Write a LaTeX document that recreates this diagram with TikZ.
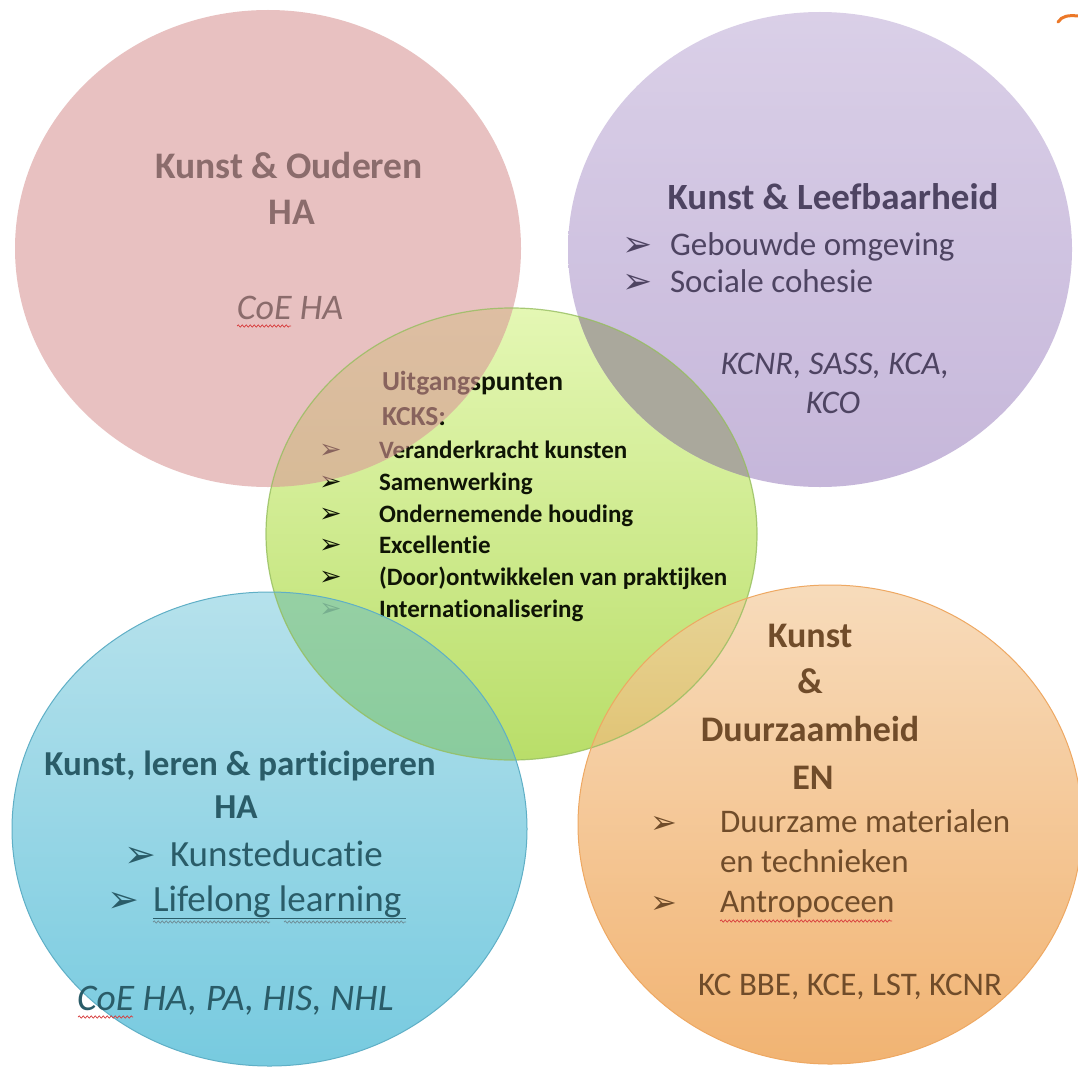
\documentclass[tikz,border=0pt]{standalone}
\usepackage{fontspec}
\setmainfont{Carlito}[Ligatures=NoCommon]
\newfontfamily\dingfont{DejaVu Sans}
\usetikzlibrary{decorations.pathmorphing}
\definecolor{greentop}{RGB}{228,247,180}
\definecolor{greenbot}{RGB}{185,222,105}
\definecolor{greenline}{RGB}{150,190,95}
\definecolor{pinkbase}{RGB}{218,153,152}
\definecolor{purptop}{RGB}{206,192,224}
\definecolor{purpbot}{RGB}{179,159,206}
\definecolor{greyover}{RGB}{170,168,156}
\definecolor{bluetop}{RGB}{143,210,226}
\definecolor{bluebot}{RGB}{47,175,207}
\definecolor{blueline}{RGB}{95,175,198}
\definecolor{bluegreen}{RGB}{140,202,140}
\definecolor{orangetop}{RGB}{245,205,159}
\definecolor{orangebot}{RGB}{236,148,55}
\definecolor{orangeline}{RGB}{238,168,98}
\definecolor{pinktext}{RGB}{139,108,108}
\definecolor{purptext}{RGB}{78,68,98}
\definecolor{bluetext}{RGB}{42,92,104}
\definecolor{orangetext}{RGB}{112,76,42}
\definecolor{greentext}{RGB}{15,20,5}
\definecolor{wavyred}{RGB}{215,60,60}
\definecolor{wavygrey}{RGB}{110,140,150}
\definecolor{hookorange}{RGB}{236,120,40}
\begin{document}
\begin{tikzpicture}[x=1pt,y=-1pt,
  lbl/.style={inner sep=0pt, outer sep=0pt},
  bul/.style={lbl, font=\dingfont\fontsize{#1}{#1}\selectfont},
  wavy/.style={decorate, decoration={snake, amplitude=1.1pt, segment length=4pt}, line width=0.7pt}]
\useasboundingbox (0,0) rectangle (1078,1070);
\fill[white] (0,0) rectangle (1078,1070);

% green centre circle and its text
\shade[top color=greentop, bottom color=greenbot] (511.5,534) ellipse (245.5 and 226);
\node[lbl, anchor=base west, text=greentext, font=\bfseries\fontsize{27.5}{27.5}\selectfont] (g1) at (382,390) {Uitgangspunten};
\node[lbl, anchor=base west, text=greentext, font=\bfseries\fontsize{27.5}{27.5}\selectfont] (g2) at (382,425) {KCKS:};
\foreach \y/\t [count=\i] in {458/Veranderkracht kunsten, 490/Samenwerking, 522/Ondernemende houding, 553/Excellentie, 585/(Door)ontwikkelen van praktijken, 617/Internationalisering}{
  \node[bul=27, anchor=base west, text=greentext] (gb\i) at (319,\y) {➢};
  \node[lbl, anchor=base west, text=greentext, font=\bfseries\fontsize{25}{25}\selectfont] (gi\i) at (379,\y) {\t};
}

% pink
\fill[pinkbase, fill opacity=0.6] (268,248.5) ellipse (253 and 238.5);
% purple
\shade[top color=purptop, bottom color=purpbot, fill opacity=0.75] (820,249.5) ellipse (252 and 237.5);
\begin{scope}
  \clip (511.5,534) ellipse (245.5 and 226);
  \fill[greyover] (820,249.5) ellipse (252 and 237.5);
\end{scope}
% blue
\shade[top color=bluetop, bottom color=bluebot, fill opacity=0.65] (269.5,829) ellipse (257.5 and 237);
\begin{scope}
  \clip (511.5,534) ellipse (245.5 and 226);
  \fill[bluegreen, fill opacity=0.55] (269.5,829) ellipse (257.5 and 237);
\end{scope}
% orange
\shade[top color=orangetop, bottom color=orangebot, fill opacity=0.7] (830,824.5) ellipse (252 and 239.5);

% outlines
\draw[greenline, line width=1.2pt, opacity=0.8] (511.5,534) ellipse (245.5 and 226);
\draw[blueline, line width=1pt] (269.5,829) ellipse (257.5 and 237);
\draw[orangeline, line width=1pt] (830,824.5) ellipse (252 and 239.5);

% small orange hook top right
\draw[hookorange, line width=3pt, line cap=round] (1058,22) .. controls (1062,16) and (1068,15) .. (1078,16);

% pink text
\node[lbl, anchor=base, text=pinktext, font=\bfseries\fontsize{37.5}{37.5}\selectfont] (p1) at (289,178) {Kunst \& Ouderen};
\node[lbl, anchor=base, text=pinktext, font=\bfseries\fontsize{37.5}{37.5}\selectfont] (p2) at (292,224) {HA};
\node[lbl, anchor=base, text=pinktext, font=\itshape\fontsize{36}{36}\selectfont] (p3) at (290,319) {CoE HA};
\draw[wavyred, wavy] (237,326) -- (291,326);

% purple text
\node[lbl, anchor=base, text=purptext, font=\bfseries\fontsize{37}{37}\selectfont] (u1) at (833,209) {Kunst \& Leefbaarheid};
\node[bul=36, anchor=base west, text=purptext] (ub1) at (622,256) {➢};
\node[lbl, anchor=base west, text=purptext, font=\fontsize{33}{33}\selectfont] (u2) at (670,255) {Gebouwde omgeving};
\node[bul=36, anchor=base west, text=purptext] (ub2) at (622,293) {➢};
\node[lbl, anchor=base west, text=purptext, font=\fontsize{33}{33}\selectfont] (u3) at (670,292) {Sociale cohesie};
\node[lbl, anchor=base, text=purptext, font=\itshape\fontsize{33}{33}\selectfont] (u4) at (835,374) {KCNR, SASS, KCA,};
\node[lbl, anchor=base, text=purptext, font=\itshape\fontsize{33}{33}\selectfont] (u5) at (833,413) {KCO};

% blue text
\node[lbl, anchor=base, text=bluetext, font=\bfseries\fontsize{35}{35}\selectfont] (b1) at (240,775) {Kunst, leren \& participeren};
\node[lbl, anchor=base, text=bluetext, font=\bfseries\fontsize{35}{35}\selectfont] (b2) at (236,818) {HA};
\node[bul=38, anchor=base west, text=bluetext] (bb1) at (124,867) {➢};
\node[lbl, anchor=base west, text=bluetext, font=\fontsize{37}{37}\selectfont] (b3) at (170,866) {Kunsteducatie};
\node[bul=38, anchor=base west, text=bluetext] (bb2) at (107,912) {➢};
\node[lbl, anchor=base west, text=bluetext, font=\fontsize{37}{37}\selectfont] (b4) at (153,911) {Lifelong learning};
\draw[bluetext, line width=0.8pt] (153,918) -- (406,918);
\draw[wavygrey, wavy] (153,922) -- (270,922);
\draw[wavygrey, wavy] (284,922) -- (406,922);
\node[lbl, anchor=base west, text=bluetext, font=\itshape\fontsize{37.5}{37.5}\selectfont] (b5) at (77,1010) {CoE HA, PA, HIS, NHL};
\draw[wavyred, wavy] (78,1017) -- (133,1017);

% orange text
\node[lbl, anchor=base, text=orangetext, font=\bfseries\fontsize{36}{36}\selectfont] (o1) at (810,647) {Kunst};
\node[lbl, anchor=base, text=orangetext, font=\bfseries\fontsize{36}{36}\selectfont] (o2) at (810,693) {\&};
\node[lbl, anchor=base, text=orangetext, font=\bfseries\fontsize{36}{36}\selectfont] (o3) at (810,741) {Duurzaamheid};
\node[lbl, anchor=base, text=orangetext, font=\bfseries\fontsize{36}{36}\selectfont] (o4) at (813,789) {EN};
\node[bul=32, anchor=base west, text=orangetext] (ob1) at (650,833) {➢};
\node[lbl, anchor=base west, text=orangetext, font=\fontsize{33}{33}\selectfont] (o5) at (720,832) {Duurzame materialen};
\node[lbl, anchor=base west, text=orangetext, font=\fontsize{33}{33}\selectfont] (o6) at (720,872) {en technieken};
\node[bul=32, anchor=base west, text=orangetext] (ob2) at (650,913) {➢};
\node[lbl, anchor=base west, text=orangetext, font=\fontsize{33}{33}\selectfont] (o7) at (720,912) {Antropoceen};
\draw[wavyred, wavy] (720,921) -- (892,921);
\node[lbl, anchor=base, text=orangetext, font=\fontsize{33}{33}\selectfont] (o8) at (850,995) {KC BBE, KCE, LST, KCNR};
\end{tikzpicture}
\end{document}
